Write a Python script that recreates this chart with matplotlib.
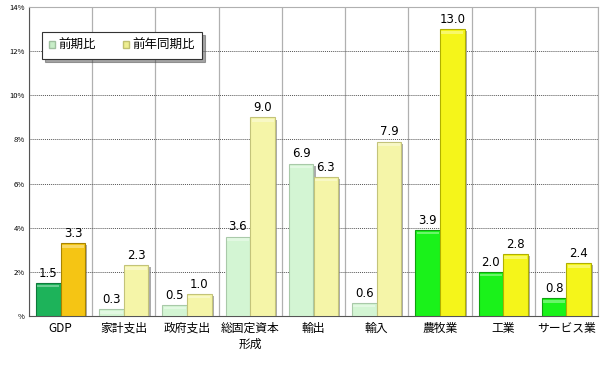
import numpy as np
import matplotlib
matplotlib.use("Agg")
from matplotlib import pyplot as plt
from matplotlib.patches import Patch
import matplotlib.patheffects as pe

plt.rcParams['font.family'] = ['Noto Sans CJK JP', 'DejaVu Sans']

# data
categories = ["GDP", "家計支出", "政府支出", "総固定資本\n形成", "輸出", "輸入", "農牧業", "工業", "サービス業"]
qoq = [1.5, 0.3, 0.5, 3.6, 6.9, 0.6, 3.9, 2.0, 0.8]
yoy = [3.3, 2.3, 1.0, 9.0, 6.3, 7.9, 13.0, 2.8, 2.4]
series_names = ["前期比", "前年同期比"]
yticks = [0, 2, 4, 6, 8, 10, 12, 14]
ytick_labels = ["%", "2%", "4%", "6%", "8%", "10%", "12%", "14%"]

# colours per category group
green = ["#1db35a"] + ["#d3f5d3"] * 5 + ["#1af21a"] * 3
yellow = ["#f5c514"] + ["#f5f5a8"] * 5 + ["#f5f51a"] * 3
green_edge = ["#0e7a3a"] + ["#a9c9a9"] * 5 + ["#0fa00f"] * 3
yellow_edge = ["#a88400"] + ["#c3c37a"] * 5 + ["#b0b000"] * 3

fig = plt.figure(figsize=(6, 3.71), dpi=100)
ax = fig.add_axes([0.0483, 0.148, 0.9484, 0.833])

x = np.arange(len(categories))
w = 0.39

b1 = ax.bar(x - w / 2, qoq, w, color=green, edgecolor=green_edge, linewidth=0.8, zorder=3)
b2 = ax.bar(x + w / 2, yoy, w, color=yellow, edgecolor=yellow_edge, linewidth=0.8, zorder=3)
for bars in (b1, b2):
    for b in bars:
        b.set_path_effects([pe.SimplePatchShadow(offset=(1.5, -1.5), shadow_rgbFace="#888888", alpha=0.7), pe.Normal()])

# light bevel strip on top of each bar
for xs, vals in ((x - w / 2, qoq), (x + w / 2, yoy)):
    for xi, v in zip(xs, vals):
        ax.bar(xi, 0.12, w * 0.9, bottom=v - 0.2, color="white", alpha=0.35, linewidth=0, zorder=4)

for xi, v in zip(x - w / 2, qoq):
    ax.text(xi, v + 0.15, f"{v:.1f}", ha="center", va="bottom", fontsize=8.5, family="DejaVu Sans")
for xi, v in zip(x + w / 2, yoy):
    ax.text(xi, v + 0.15, f"{v:.1f}", ha="center", va="bottom", fontsize=8.5, family="DejaVu Sans")

ax.set_xlim(-0.5, len(categories) - 0.5)
ax.set_ylim(0, 14)
ax.set_yticks(yticks)
ax.set_yticklabels(ytick_labels, fontsize=5.5)
ax.set_xticks(x)
ax.set_xticklabels(categories, fontsize=8.5, linespacing=1.35)
ax.tick_params(axis="both", length=0, pad=3)
ax.tick_params(axis="x", pad=4)

# grid
ax.set_xticks(np.arange(len(categories) + 1) - 0.5, minor=True)
ax.tick_params(axis="x", which="minor", length=0)
ax.grid(axis="x", which="minor", color="#b0b0b0", linewidth=0.9, zorder=0)
ax.grid(axis="y", which="major", color="#555555", linestyle=(0, (1, 1)), linewidth=0.7, zorder=0)

for s in ["top", "right"]:
    ax.spines[s].set_color("#b0b0b0")
ax.spines["left"].set_color("#555555")
ax.spines["bottom"].set_color("#555555")

handles = [Patch(facecolor="#c8eec8", edgecolor="#a0c0a0"), Patch(facecolor="#eeee90", edgecolor="#c0c070")]
leg = ax.legend(handles, series_names, loc="upper left", bbox_to_anchor=(0.023, 0.919), ncol=2,
                fontsize=9, frameon=True, fancybox=False, shadow=True, handlelength=0.45,
                handleheight=0.45, handletextpad=0.3, columnspacing=2.2, borderpad=0.55,
                borderaxespad=0)
leg.get_frame().set_edgecolor("#333333")
leg.get_frame().set_linewidth(0.8)

fig.savefig("out.png", dpi=100)
